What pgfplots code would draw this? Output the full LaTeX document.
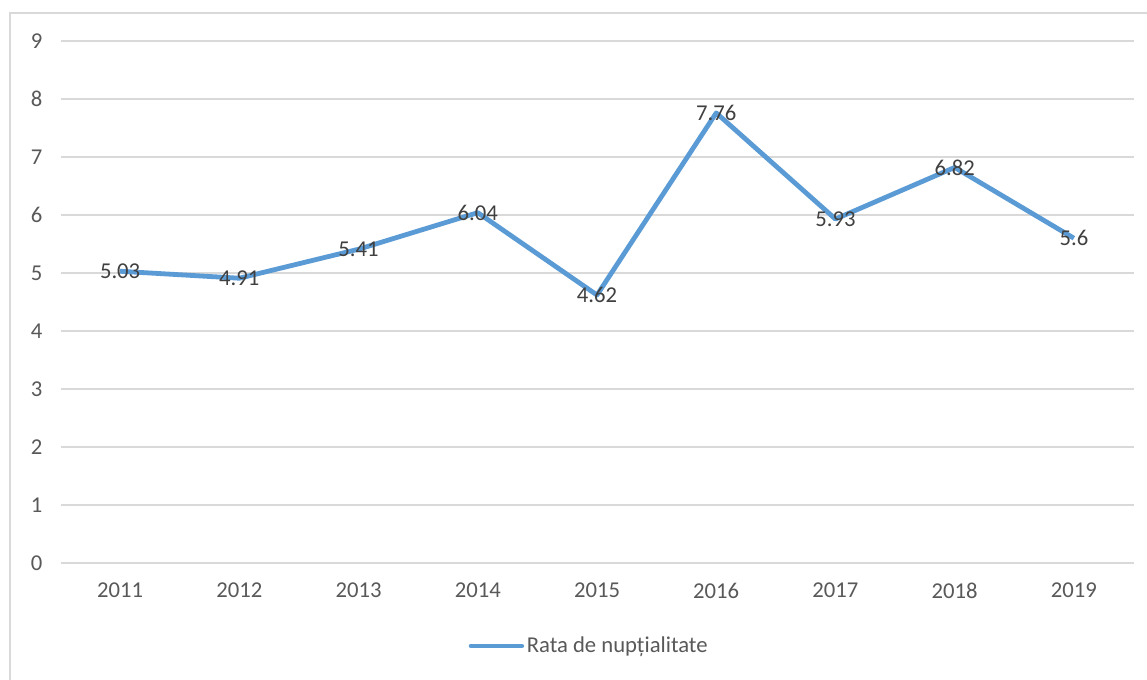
\documentclass[border=0pt]{standalone}
\usepackage{fontspec}
\setmainfont{Carlito}
\usepackage{pgfplots}
\pgfplotsset{compat=1.18}
\definecolor{linec}{HTML}{5B9BD5}
\definecolor{gridc}{HTML}{D9D9D9}
\definecolor{tickc}{HTML}{595959}
\definecolor{labc}{HTML}{404040}
\begin{document}
\begin{tikzpicture}
\useasboundingbox (0pt,0pt) rectangle (860.25pt,509.25pt);
\clip (0pt,0pt) rectangle (860.25pt,509.25pt);
\fill[white] (0pt,0pt) rectangle (860.25pt,509.25pt);
\draw[gridc, line width=1.2pt] (7.5pt,499.5pt) rectangle (880pt,-20pt);
\begin{axis}[
  at={(45.375pt,87pt)}, anchor=south west,
  scale only axis,
  width=804.75pt, height=391.5pt,
  xmin=-0.5, xmax=8.5, ymin=0, ymax=9,
  xtick={0,...,8},
  xticklabels={2011,2012,2013,2014,2015,2016,2017,2018,2019},
  ytick={0,...,9},
  axis line style={draw=none},
  major tick length=0pt,
  ymajorgrids, grid style={gridc, line width=1.1pt},
  tick label style={font=\fontsize{17}{20}\selectfont, text=tickc},
  /pgf/number format/assume math mode=true,
  yticklabel style={xshift=-10pt},
  xticklabel style={yshift=-11.5pt},
  clip=false,
  legend style={draw=none, fill=none, at={(0.493,-0.159)}, anchor=center,
    font=\fontsize{17}{20}\selectfont, text=tickc, inner sep=0pt},
  legend cell align=left,
  legend image code/.code={\draw[line width=3.6pt, line cap=round, linec] (0pt,0pt) -- (38pt,0pt);},
  nodes near coords,
  point meta=explicit symbolic,
  every node near coord/.append style={anchor=center, font=\fontsize{17}{20}\selectfont, text=labc},
]
\addplot[linec, line width=3.6pt, line join=round, mark=none] table[meta=l] {
x y l
0 5.03 5.03
1 4.91 4.91
2 5.41 5.41
3 6.04 6.04
4 4.62 4.62
5 7.76 7.76
6 5.93 5.93
7 6.82 6.82
8 5.6 5.6
};
\addlegendentry{Rata de nupțialitate}
\end{axis}
\end{tikzpicture}
\end{document}
